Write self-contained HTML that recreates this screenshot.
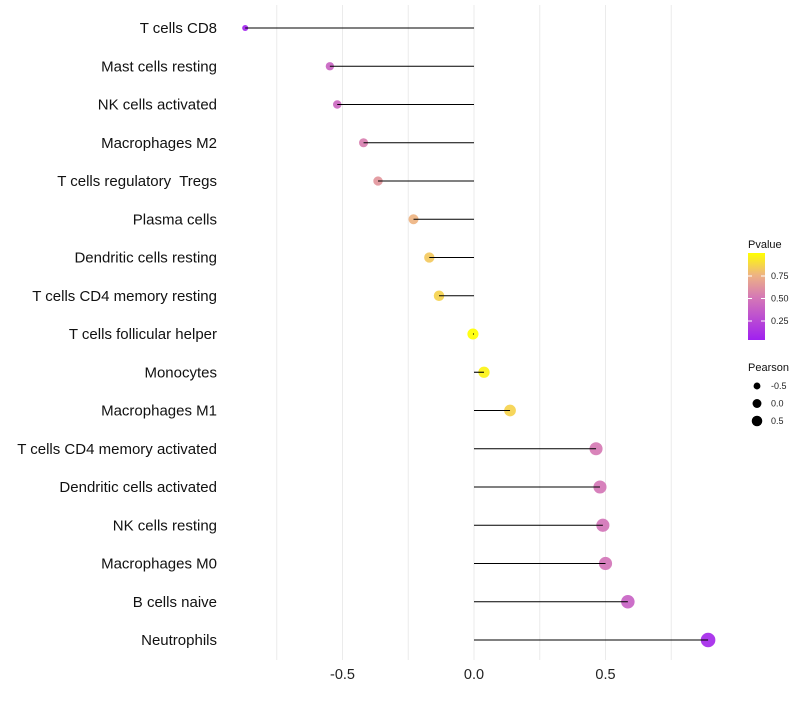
<!DOCTYPE html>
<html><head><meta charset="utf-8"><style>
body{margin:0;background:#fff;font-family:"Liberation Sans",sans-serif;}
svg text{font-family:"Liberation Sans",sans-serif;white-space:pre;}
</style></head><body>
<svg id="c" width="800" height="700"></svg>
<script>
const cells=["T cells CD8","Mast cells resting","NK cells activated","Macrophages M2","T cells regulatory  Tregs","Plasma cells","Dendritic cells resting","T cells CD4 memory resting","T cells follicular helper","Monocytes","Macrophages M1","T cells CD4 memory activated","Dendritic cells activated","NK cells resting","Macrophages M0","B cells naive","Neutrophils"];
const pearson=[-0.87,-0.548,-0.52,-0.42,-0.365,-0.23,-0.17,-0.133,-0.004,0.038,0.137,0.464,0.479,0.49,0.50,0.585,0.89];
const pvalues=[0.02,0.38,0.4,0.52,0.62,0.75,0.82,0.85,1.0,0.96,0.85,0.5,0.48,0.47,0.47,0.37,0.05];
const xTicks=[-0.5,0,0.5];
const xTickLabels=["-0.5","0.0","0.5"];
const legendP=[0.25,0.5,0.75];
const legendR=[-0.5,0,0.5];
const NS="http://www.w3.org/2000/svg";
const svg=document.getElementById('c');
function mk(t,a,p){const e=document.createElementNS(NS,t);for(const k in a)e.setAttribute(k,a[k]);(p||svg).appendChild(e);return e;}
const x=v=>474+v*263;
const y=i=>28+i*38.25;
const r=v=>Math.sqrt(Math.max(4,31+25*v));
const stops=[[0,[160,32,240]],[0.5,[214,122,180]],[0.75,[238,180,130]],[1,[255,255,0]]];
function col(p){let a=stops[0],b=stops[1];for(let k=0;k<stops.length-1;k++){if(p>=stops[k][0]&&p<=stops[k+1][0]){a=stops[k];b=stops[k+1];}}
 const t=(p-a[0])/(b[0]-a[0]);const c=a[1].map((v,k)=>Math.round(v+(b[1][k]-v)*t));return `rgb(${c})`;}
for(let g=-0.75;g<=0.76;g+=0.25){const l=mk('line',{x1:x(g),x2:x(g),y1:5,y2:660,stroke:'#ebebeb','stroke-width':1});
}
xTicks.forEach((v,i)=>{const t=mk('text',{x:x(v),y:679,'font-size':14.5,'text-anchor':'middle',fill:'#222'});t.textContent=xTickLabels[i];
});
cells.forEach((c,i)=>{
 const t=mk('text',{x:217,y:y(i)+5,'font-size':15,'text-anchor':'end',fill:'#111'});t.textContent=c;
 
 const d=mk('circle',{cx:x(pearson[i]),cy:y(i),r:r(pearson[i]),fill:col(pvalues[i]),'fill-opacity':0.92});
 
 const l=mk('line',{x1:x(0),x2:x(pearson[i]),y1:y(i),y2:y(i),stroke:'#000','stroke-width':1.1});
 
});
const defs=mk('defs',{});const lg=mk('linearGradient',{id:'pg',x1:0,y1:1,x2:0,y2:0},defs);
[0,0.25,0.5,0.75,1].forEach(p=>mk('stop',{offset:p,'stop-color':col(p)},lg));
const lt=mk('text',{x:748,y:248,'font-size':11,fill:'#111'});lt.textContent='Pvalue';

const bar=mk('rect',{x:748,y:253,width:17,height:87,fill:'url(#pg)'});

const py=p=>343.5-p*90;
legendP.forEach(p=>{mk('line',{x1:748,x2:752,y1:py(p),y2:py(p),stroke:'#fff'});mk('line',{x1:761,x2:765,y1:py(p),y2:py(p),stroke:'#fff'});
 const t=mk('text',{x:771,y:py(p)+3,'font-size':9,fill:'#222'});t.textContent=p.toFixed(2);
 });
const pt=mk('text',{x:748,y:371,'font-size':11,fill:'#111'});pt.textContent='Pearson';

legendR.forEach((v,i)=>{const cy=386+i*17.5;
 const c=mk('circle',{cx:757,cy:cy,r:r(v)*0.8,fill:'#000'});
 const t=mk('text',{x:771,y:cy+3,'font-size':9,fill:'#222'});t.textContent=v===0?'0.0':String(v);
 });
</script>
</body></html>
